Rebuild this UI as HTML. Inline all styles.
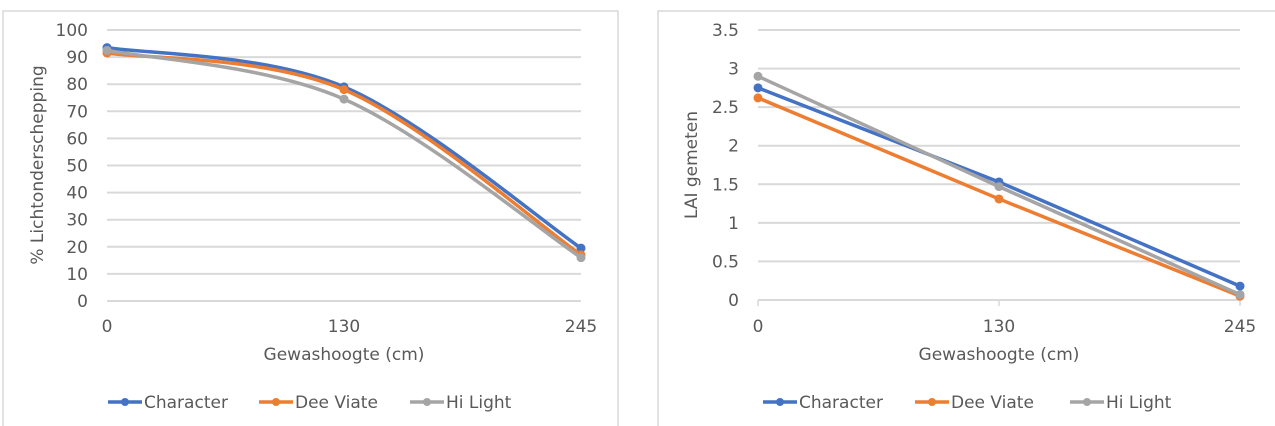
<!DOCTYPE html>
<html><head><meta charset="utf-8"><style>
html,body{margin:0;padding:0;background:#fff;width:1275px;height:426px;overflow:hidden}
svg{display:block;font-family:"DejaVu Sans","Liberation Sans",sans-serif}
</style></head><body>
<svg id="s" width="1275" height="426"></svg>
<script>
const categories=["0","130","245"];
const seriesNames=["Character","Dee Viate","Hi Light"];
const colors=["#4472c4","#ed7d31","#a5a5a5"];
const leftCharacter=[93.5,79,19.5];
const leftDeeViate=[91.5,78,17];
const leftHiLight=[92.5,74.5,16];
const leftTicks=[0,10,20,30,40,50,60,70,80,90,100];
const rightCharacter=[2.75,1.53,0.18];
const rightDeeViate=[2.62,1.31,0.05];
const rightHiLight=[2.9,1.47,0.07];
const rightTicks=[0,0.5,1,1.5,2,2.5,3,3.5];
const NS="http://www.w3.org/2000/svg";
const svg=document.getElementById('s');
function mk(t,a,p){const e=document.createElementNS(NS,t);for(const k in a)e.setAttribute(k,a[k]);(p||svg).appendChild(e);return e;}
function chart(o){
  const g=mk('g',{});
  
  
  const fr=mk('rect',{x:o.bx,y:11,width:o.bw,height:430,fill:'#fff',stroke:'#d9d9d9','stroke-width':1.5},g);
  
  
  const max=o.ticks[o.ticks.length-1];
  const y=v=>o.y0-(v/max)*(o.y0-o.yTop);
  const x=i=>o.x0+i*(o.x1-o.x0)/(categories.length-1);
  o.ticks.forEach(t=>{
    const l=mk('line',{x1:o.x0,x2:o.x1,y1:y(t),y2:y(t),stroke:'#d9d9d9','stroke-width':2},g);
    
    
    const tx=mk('text',{x:o.x0-19,y:y(t)+6,'text-anchor':'end','font-size':17,fill:'#595959'},g);
    tx.textContent=String(t);
    
    
  });
  if(o.tickMarks){categories.forEach((c,i)=>{const l=mk('line',{x1:x(i),x2:x(i),y1:o.y0,y2:o.y0+6,stroke:'#d9d9d9','stroke-width':1.5},g);
    
    });}
  categories.forEach((c,i)=>{const t=mk('text',{x:x(i),y:332,'text-anchor':'middle','font-size':17,fill:'#595959'},g);t.textContent=c;
    
    });
  const xt=mk('text',{x:(o.x0+o.x1)/2,y:360,'text-anchor':'middle','font-size':17,fill:'#595959'},g);xt.textContent=o.xTitle;
  
  
  const yt=mk('text',{x:0,y:0,'text-anchor':'middle','font-size':17,fill:'#595959',transform:`translate(${o.ytx},${o.yty}) rotate(-90)`},g);yt.textContent=o.yTitle;
  
  
  o.series.forEach((s,si)=>{
    const pts=s.map((v,i)=>[x(i),y(v)]);
    let d='M'+pts[0].join(',');
    if(o.smooth){
      for(let i=0;i<pts.length-1;i++){
        const p0=pts[Math.max(0,i-1)],p1=pts[i],p2=pts[i+1],p3=pts[Math.min(pts.length-1,i+2)];
        const k=1/6;
        d+=` C${p1[0]+(p2[0]-p0[0])*k},${p1[1]+(p2[1]-p0[1])*k} ${p2[0]-(p3[0]-p1[0])*k},${p2[1]-(p3[1]-p1[1])*k} ${p2[0]},${p2[1]}`;
      }
    } else pts.slice(1).forEach(p=>d+=' L'+p.join(','));
    const p=mk('path',{d:d,fill:'none',stroke:colors[si],'stroke-width':3.5},g);
    
    
    pts.forEach(q=>{const c=mk('circle',{cx:q[0],cy:q[1],r:4.5,fill:colors[si]},g);
      
      });
  });
  o.legendX.forEach((lx,i)=>{
    const lg=mk('g',{},g);
    
    
    mk('line',{x1:lx,x2:lx+34,y1:402,y2:402,stroke:colors[i],'stroke-width':3.5},lg);
    mk('circle',{cx:lx+17,cy:402,r:4,fill:colors[i]},lg);
    const t=mk('text',{x:lx+36,y:408,'font-size':17,fill:'#595959'},lg);t.textContent=seriesNames[i];
  });
}
chart({name:'left-chart',bx:3,bw:615,x0:107,x1:581,y0:301,yTop:30,ticks:leftTicks,series:[leftCharacter,leftDeeViate,leftHiLight],smooth:true,
  xTitle:'Gewashoogte  (cm)',yTitle:'% Lichtonderschepping',ytx:43,yty:165,legendX:[108,259,410],tickMarks:false});
chart({name:'right-chart',bx:658,bw:620,x0:758,x1:1240,y0:300,yTop:30,ticks:rightTicks,series:[rightCharacter,rightDeeViate,rightHiLight],smooth:false,
  xTitle:'Gewashoogte (cm)',yTitle:'LAI gemeten',ytx:697,yty:165,legendX:[763,915,1070],tickMarks:true});
</script>
</body></html>
